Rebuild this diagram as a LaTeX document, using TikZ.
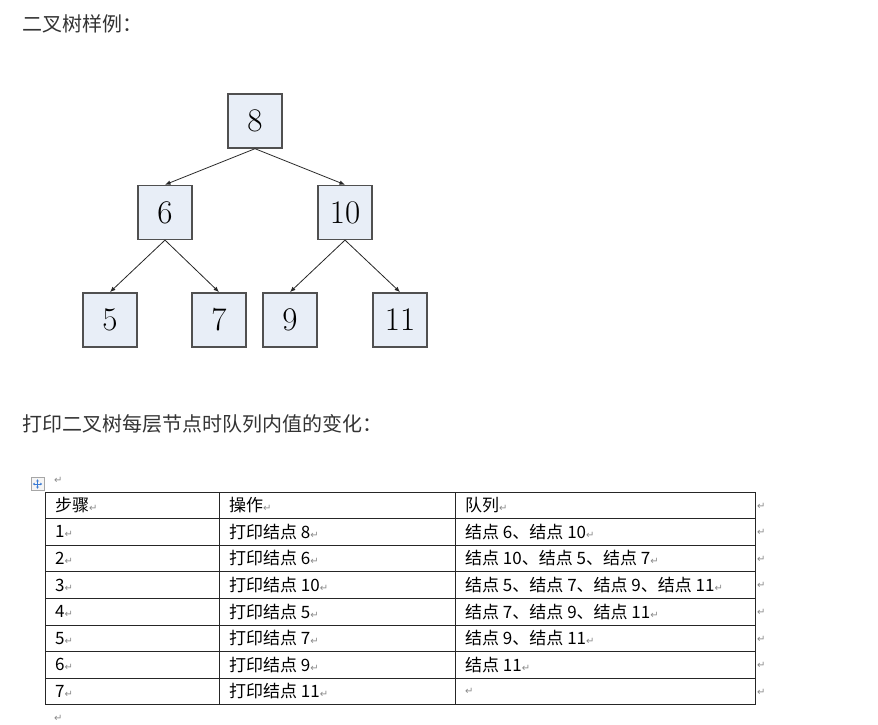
\documentclass[tikz,border=0pt]{standalone}
\usepackage{fontspec}
\newfontfamily\cjk{Noto Sans CJK SC}
\newfontfamily\symfont{DejaVu Sans}
\usetikzlibrary{
	arrows.meta,
	positioning
}
\definecolor{boxfill}{HTML}{E8EEF7}
\definecolor{boxline}{HTML}{505050}
\definecolor{textgray}{HTML}{333333}
\definecolor{markgray}{HTML}{8A8A8A}
\definecolor{iconblue}{HTML}{3A7BD5}
\newcommand{\retmark}{{\symfont\fontsize{10}{10}\selectfont\textcolor{markgray}{↵}}}

\begin{document}
\begin{tikzpicture}[
    x=1pt, y=-1pt,
    treebox/.style={rectangle, draw=boxline, fill=boxfill, line width=1.4pt, minimum size=54pt, inner sep=0pt, font=\fontsize{33}{33}\selectfont},
    arrow/.style={-{Latex[length=5.5pt,width=4.5pt]}, line width=0.8pt, draw=black!85},
    heading/.style={anchor=west, inner sep=0pt, text=textgray, font=\cjk\fontsize{20}{20}\selectfont},
    cell/.style={anchor=west, inner sep=0pt, font=\cjk\fontsize{17}{17}\selectfont},
    retnode/.style={anchor=west, inner sep=0pt},
    rule/.style={line width=1pt, draw=black!85}
]
\useasboundingbox (0,0) rectangle (878,724);

\node[heading] (title) at (22,24) {二叉树样例：};

% tree
\node[treebox] (n8) at (255,121) {8};
\node[treebox, below=36pt of n8, xshift=-90pt] (n6) {6};
\node[treebox, below=36pt of n8, xshift=90pt] (n10) {10};
\node[treebox, below=52pt of n6, xshift=-55pt] (n5) {5};
\node[treebox, below=52pt of n6, xshift=54pt] (n7) {7};
\node[treebox, below=52pt of n10, xshift=-55pt] (n9) {9};
\node[treebox, below=52pt of n10, xshift=55pt] (n11) {11};

\foreach \p/\c in {n8/n6, n8/n10, n6/n5, n6/n7, n10/n9, n10/n11}
    \draw[arrow] (\p.south) -- (\c.north);

\node[heading] (caption) at (22,424) {打印二叉树每层节点时队列内值的变化：};

% table
\node[draw=black!35, fill=black!4, minimum size=13pt, inner sep=0pt] (moveicon) at (37.5,484) {};
\draw[iconblue, line width=0.7pt, {Stealth[length=2.2pt,width=2.6pt]}-{Stealth[length=2.2pt,width=2.6pt]}] ([xshift=2pt]moveicon.west) -- ([xshift=-2pt]moveicon.east);
\draw[iconblue, line width=0.7pt, {Stealth[length=2.2pt,width=2.6pt]}-{Stealth[length=2.2pt,width=2.6pt]}] ([yshift=-2pt]moveicon.north) -- ([yshift=2pt]moveicon.south);
\node[retnode] (topmark) at (54,480) {\retmark};
\node[retnode] (bottommark) at (54,718) {\retmark};

\foreach \k in {0,...,8}
    \draw[rule] (45,492+26.6*\k) -- (755,492+26.6*\k);
\foreach \x in {45,219,455,755}
    \draw[rule] (\x,492) -- (\x,704.8);

\node[cell] (hstep) at (55,505.3) {步骤\retmark};
\node[cell] (hop) at (229,505.3) {操作\retmark};
\node[cell] (hqueue) at (465,505.3) {队列\retmark};

\foreach \i/\op/\q in {1/8/{结点 6、结点 10}, 2/6/{结点 10、结点 5、结点 7}, 3/10/{结点 5、结点 7、结点 9、结点 11}, 4/5/{结点 7、结点 9、结点 11}, 5/7/{结点 9、结点 11}, 6/9/{结点 11}, 7/11/{}} {
    \node[cell] (step\i) at (55,505.3+26.6*\i) {\i\retmark};
    \node[cell] (op\i) at (229,505.3+26.6*\i) {打印结点 \op\retmark};
    \node[cell] (queue\i) at (465,505.3+26.6*\i) {\q\retmark};
}
\foreach \k in {0,...,7}
    \node[retnode] (rowend\k) at (757,506+26.6*\k) {\retmark};
\end{tikzpicture}
\end{document}
